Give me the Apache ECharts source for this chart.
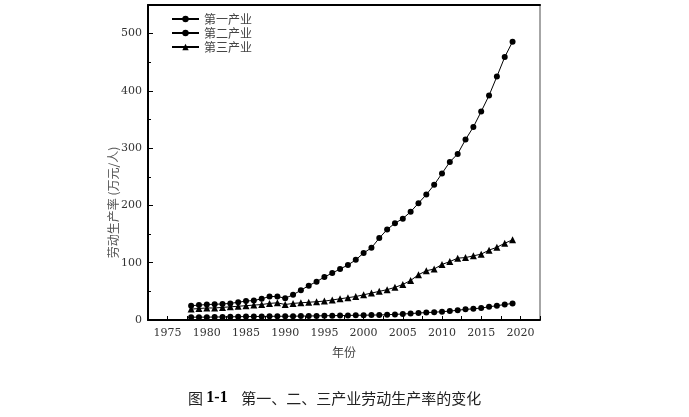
<!DOCTYPE html>
<html>
<head>
<meta charset="utf-8">
<script src="https://cdn.jsdelivr.net/npm/echarts@6/dist/echarts.min.js"></script>
<style>html,body{margin:0;padding:0;background:#fff}#c{width:689px;height:417px}</style>
</head>
<body>
<div id="c"></div>
<script>
const years = [1978,1979,1980,1981,1982,1983,1984,1985,1986,1987,1988,1989,1990,1991,1992,1993,1994,1995,1996,1997,1998,1999,2000,2001,2002,2003,2004,2005,2006,2007,2008,2009,2010,2011,2012,2013,2014,2015,2016,2017,2018,2019];
const primary = [5,5,5,5.2,5.4,5.6,5.8,6,6,6.2,6.4,6.5,6.5,6.7,6.8,7,7.2,7.4,7.6,7.8,8,8.2,8.4,8.6,8.8,9.2,9.8,10.5,11.2,12.2,13,13.6,14.5,15.5,17,18.6,19.5,21,23,25,27,29];
const secondary = [25,26,27,27.5,28,29,31,33,34,37,41,41,38,44,52,60,67,75,82,89,96,105,117,126,143,158,169,177,189,204,219,236,256,276,290,315,337,364,392,425,459,486];
const tertiary = [19,20,21,21,22,23,24,25,26,27,29,30,27,29,30,31,32,33,35,37,39,41,44,47,50,53,57,62,69,79,86,89,97,102,108,109,112,115,122,127,134,140];
const seriesNames = ['第一产业','第二产业','第三产业'];
const yAxisName = '劳动生产率 (万元/人)';
const xAxisName = '年份';

const pairs = arr => years.map((y, i) => [y, arr[i]]);
const chart = echarts.init(document.getElementById('c'));
const lineStyle = {color: '#000', width: 1};
const mk = (name, data, symbol, size) => ({
  name, type: 'line', data: pairs(data), symbol, symbolSize: size,
  lineStyle, itemStyle: {color: '#000'}, animation: false
});
chart.setOption({
  backgroundColor: '#fff',
  animation: false,
  grid: {left: 148, right: 149, top: 5, bottom: 97},
  legend: {
    orient: 'vertical', left: 166, top: 8, itemWidth: 27, itemHeight: 8, itemGap: 2,
    textStyle: {fontFamily: 'Noto Sans CJK SC', fontSize: 12, color: '#444'},
    data: seriesNames
  },
  title: {
    text: '{a|图 }{b|1-1}{a|    第一、二、三产业劳动生产率的变化}',
    left: 183, top: 385,
    textStyle: {fontWeight: 'normal', rich: {
      a: {fontFamily: 'Noto Sans CJK SC', fontSize: 15, fontWeight: 'normal', color: '#222'},
      b: {fontFamily: 'Liberation Serif', fontSize: 16, fontWeight: 'bold', color: '#000'}
    }}
  },
  xAxis: [{
    type: 'value', min: 1972.5, max: 2022.5, interval: 2.5,
    name: xAxisName, nameLocation: 'middle', nameGap: 26,
    nameTextStyle: {fontFamily: 'Noto Sans CJK SC', fontSize: 12, color: '#444'},
    axisLine: {lineStyle: {color: '#000', width: 2}},
    axisTick: {inside: true, length: 4, lineStyle: {color: '#000'}},
    axisLabel: {
      margin: 8, fontFamily: 'DejaVu Serif', fontSize: 11, color: '#333',
      formatter: v => (Math.abs(v % 5) < 1e-6 ? String(v) : '')
    },
    splitLine: {show: false}
  }, {
    type: 'value', position: 'top', min: 1972.5, max: 2022.5,
    axisLine: {show: true, onZero: false, lineStyle: {color: '#000', width: 2}},
    axisTick: {show: false}, axisLabel: {show: false}, splitLine: {show: false}
  }],
  yAxis: [{
    type: 'value', min: 0, max: 550, interval: 100,
    name: yAxisName, nameLocation: 'middle', nameGap: 29, nameMoveOverlap: false,
    nameTextStyle: {fontFamily: 'Noto Sans CJK SC', fontSize: 12, color: '#555', padding: [0, 80, 0, 0]},
    axisLine: {show: true, onZero: false, lineStyle: {color: '#000', width: 2}},
    axisTick: {inside: true, length: 5, lineStyle: {color: '#000'}},
    minorTick: {show: true, splitNumber: 2, length: 3, lineStyle: {color: '#000'}},
    axisLabel: {margin: 6, fontFamily: 'DejaVu Serif', fontSize: 11, color: '#333', showMaxLabel: false},
    splitLine: {show: false}
  }, {
    type: 'value', position: 'right', min: 0, max: 550,
    axisLine: {show: true, onZero: false, lineStyle: {color: '#888', width: 1.5}},
    axisTick: {show: false}, axisLabel: {show: false}, splitLine: {show: false}
  }],
  series: [
    mk(seriesNames[0], primary, 'circle', 6),
    mk(seriesNames[1], secondary, 'circle', 6),
    mk(seriesNames[2], tertiary, 'triangle', 7)
  ]
});
</script>
</body>
</html>
